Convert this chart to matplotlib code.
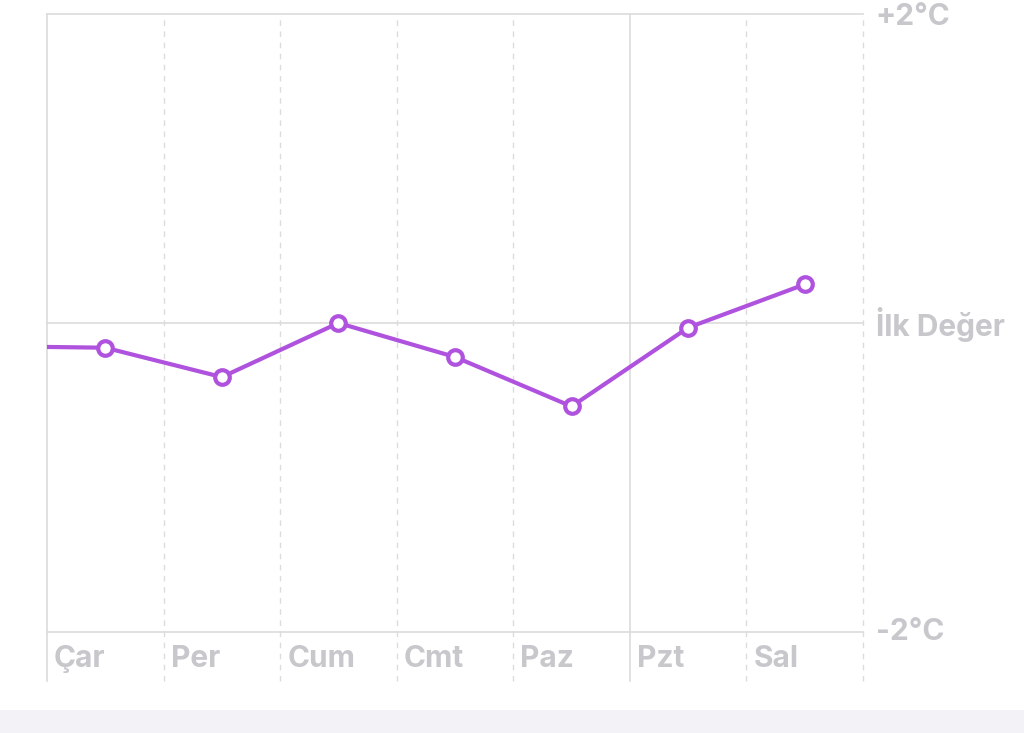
import matplotlib.pyplot as plt
from matplotlib.patches import Rectangle

# gün etiketleri ve sıcaklık farkı değerleri (°C)
days = ['Çar', 'Per', 'Cum', 'Cmt', 'Paz', 'Pzt', 'Sal']
values = [-0.16, -0.35, 0.0, -0.22, -0.54, -0.03, 0.25]
prev_value = -0.15  # önceki günden gelen değer (görünmez, sadece çizgi)
y_labels = ['+2°C', 'İlk Değer', '-2°C']
y_ticks = [2, 0, -2]
solid_days = [0, 5]  # sürekli çizgi olan dikey çizgiler

W, H = 1024, 733
purple = '#AF52DE'
grid_c = '#dcdcdc'
text_c = '#c7c7cc'

plt.rcParams['font.family'] = ['Inter', 'DejaVu Sans']

fig = plt.figure(figsize=(W / 100, H / 100), dpi=100)
fig.patch.set_facecolor('white')

# alt gri bant
fig.patches.append(Rectangle((0, 0), 1, 23 / H, transform=fig.transFigure,
                             facecolor='#f2f2f7', edgecolor='none', zorder=0))

left, right, top, bottom = 47, 863, 14, 632
ax = fig.add_axes([left / W, (H - bottom) / H, (right - left) / W, (bottom - top) / H])
ax.set_xlim(0, 7)
ax.set_ylim(-2, 2)
for s in ax.spines.values():
    s.set_visible(False)
ax.set_xticks([])
ax.set_yticks([])
ax.patch.set_alpha(0)

# yatay çizgiler
for yt in y_ticks:
    ax.axhline(yt, color=grid_c, lw=1.2, zorder=1, clip_on=False)

# dikey çizgiler (etiket alanına kadar uzanır)
ext = -(681 - bottom) / (bottom - top)
for i in range(8):
    if i in solid_days:
        ax.plot([i, i], [ext, 1], transform=ax.get_xaxis_transform(), color=grid_c,
                lw=1.2, clip_on=False, zorder=1)
    else:
        ax.plot([i, i], [ext, 1], transform=ax.get_xaxis_transform(), color=grid_c,
                lw=1.0, ls=(0, (4, 4)), clip_on=False, zorder=1)

# gün etiketleri
label_y = -(659 - bottom) / (bottom - top)
for i, d in enumerate(days):
    ax.text(i + 0.06, label_y, d, transform=ax.get_xaxis_transform(),
            ha='left', va='center', fontsize=21.5, fontweight='bold', color=text_c)

# sağ etiketler
right_pos = [(2, 17), (0, 324), (-2, 632)]
for (yt, ypx), lab in zip(right_pos, y_labels):
    ax.text(7.11, 1 - (ypx - top) / (bottom - top), lab,
            transform=ax.get_xaxis_transform(), ha='left', va='center',
            fontsize=21.5, fontweight='bold', color=text_c, clip_on=False)

# çizgi
xs = [i + 0.5 for i in range(len(days))]
ax.plot([-0.5] + xs, [prev_value] + values, color=purple, lw=3, zorder=3,
        solid_joinstyle='round', solid_capstyle='round')
ax.plot(xs, values, ls='none', marker='o', ms=10.5, mfc='white', mec=purple,
        mew=3, zorder=4)

fig.savefig('out.png', dpi=100)
